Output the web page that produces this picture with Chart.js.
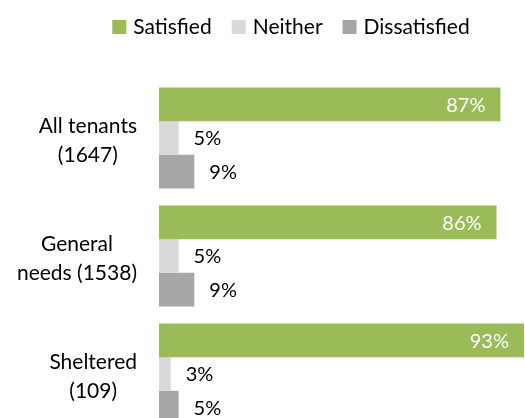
<!DOCTYPE html>
<html>
<head>
<meta charset="utf-8">
<script src="https://cdn.jsdelivr.net/npm/chart.js@4/dist/chart.umd.min.js"></script>
<style>
  html, body { margin: 0; padding: 0; background: #fff; overflow: hidden; }
  #wrap { width: 525px; height: 440px; position: relative; }
</style>
</head>
<body>
<div id="wrap"><canvas id="grafico"></canvas></div>
<script>
const categorias = [['All tenants', '(1647)'], ['General', 'needs (1538)'], ['Sheltered', '(109)']];
const series = ['Satisfied', 'Neither', 'Dissatisfied'];
const satisfechos = [87, 86, 93];
const neutrales = [5, 5, 3];
const insatisfechos = [9, 9, 5];
const colores = ['#9BBB59', '#D9D9D9', '#A6A6A6'];

const fuente = 'Lato, "Open Sans", sans-serif';

// leyenda y etiquetas de categoria dibujadas a mano
const rotulos = {
  id: 'rotulos',
  afterDraw(chart) {
    const ctx = chart.ctx;
    ctx.save();

    // leyenda
    ctx.font = `21px ${fuente}`;
    ctx.textBaseline = 'middle';
    ctx.textAlign = 'left';
    const anchos = series.map((s) => ctx.measureText(s).width);
    const total = anchos.reduce((a, w) => a + 14 + 7 + w, 0) + 20 * (series.length - 1);
    let x = 291 - total / 2;
    series.forEach((s, i) => {
      ctx.fillStyle = colores[i];
      ctx.fillRect(x, 20, 14, 14);
      ctx.fillStyle = '#000';
      ctx.fillText(s, x + 21, 27);
      x += 21 + anchos[i] + 20;
    });

    // etiquetas de categoria, centradas y pegadas al eje
    const escala = chart.scales.y;
    ctx.textAlign = 'center';
    categorias.forEach((lineas, i) => {
      const cy = escala.getPixelForValue(i) + 3;
      const ancho = Math.max(...lineas.map((l) => ctx.measureText(l).width));
      const cx = 137 - ancho / 2;
      lineas.forEach((l, j) => {
        ctx.fillText(l, cx, cy + (j - (lineas.length - 1) / 2) * 29);
      });
    });

    // valores de las barras
    ctx.font = `20px ${fuente}`;
    chart.data.datasets.forEach((ds, d) => {
      chart.getDatasetMeta(d).data.forEach((barra, i) => {
        const texto = ds.data[i] + '%';
        if (d === 0) {
          ctx.fillStyle = '#fff';
          ctx.textAlign = 'right';
          ctx.fillText(texto, barra.x - 15, barra.y + 1);
        } else {
          ctx.fillStyle = '#000';
          ctx.textAlign = 'left';
          ctx.fillText(texto, barra.x + 15, barra.y + 1);
        }
      });
    });
    ctx.restore();
  }
};

new Chart(document.querySelector('#grafico'), {
  type: 'bar',
  data: {
    labels: categorias,
    datasets: [
      { label: series[0], data: satisfechos, backgroundColor: colores[0] },
      { label: series[1], data: neutrales, backgroundColor: colores[1] },
      { label: series[2], data: insatisfechos, backgroundColor: colores[2] }
    ]
  },
  options: {
    indexAxis: 'y',
    responsive: true,
    maintainAspectRatio: false,
    animation: false,
    datasets: {
      bar: {
        barPercentage: 1,
        categoryPercentage: 0.856
      }
    },
    layout: {
      padding: { left: 159, right: 1, top: 79, bottom: 7 }
    },
    plugins: {
      legend: { display: false },
      tooltip: { enabled: false }
    },
    scales: {
      x: { display: false, min: 0, max: 93 },
      y: { display: false }
    }
  },
  plugins: [rotulos]
});
</script>
</body>
</html>
